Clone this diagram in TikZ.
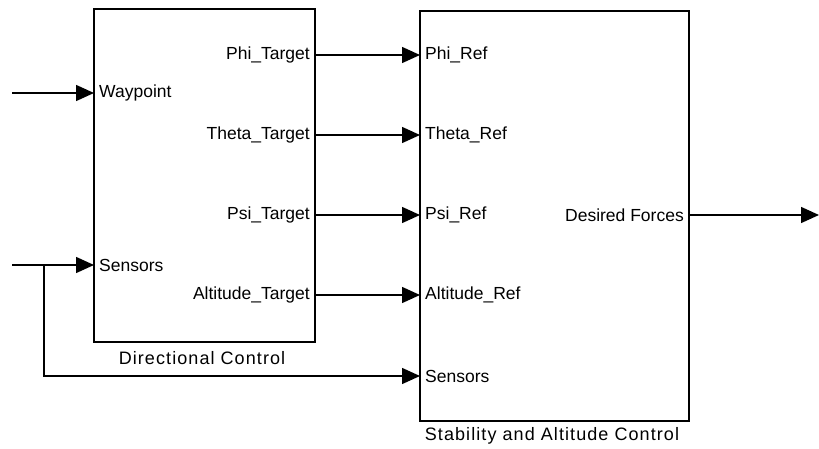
\documentclass[tikz,border=0pt]{standalone}
\usepackage{fontspec}
\setmainfont{Liberation Sans}
\newfontfamily\captionfont[LetterSpace=6]{Liberation Sans}
\usetikzlibrary{arrows.meta}

\tikzset{
  block/.style={draw, line width=1.5pt, outer sep=0pt, inner sep=0pt},
  portin/.style={anchor=west, inner sep=5pt, font=\fontsize{17.5}{20}\selectfont},
  portout/.style={anchor=east, inner sep=5pt, font=\fontsize{17.5}{20}\selectfont},
  sig/.style={line width=1.5pt, -{Triangle[length=18pt,width=16pt]}},
  blockname/.style={inner sep=0pt, font=\fontsize{18}{20}\captionfont}
}

\begin{document}
\begin{tikzpicture}[x=1pt,y=-1pt]
\useasboundingbox (0,0) rectangle (819,449);

% blocks
\node[block, minimum width=221pt, minimum height=333pt] (dc) at (204.5,175.5) {};
\node[blockname] (dcname) at (202,358) {Directional Control};

\node[block, minimum width=269pt, minimum height=410pt] (sac) at (554.5,216) {};
\node[blockname] (sacname) at (552,436) {Stability and Altitude Control};

% rows
\coordinate (r1) at (0,55);
\coordinate (r2) at (0,93);
\coordinate (r3) at (0,135);
\coordinate (r4) at (0,215);
\coordinate (r5) at (0,265);
\coordinate (r6) at (0,295);
\coordinate (r7) at (0,376);

% ports of Directional Control
\node[portin] (wp) at (dc.west |- r2) {Waypoint};
\node[portin] (sn) at (dc.west |- r5) {Sensors};

\node[portout] (phit) at (dc.east |- r1) {Phi\_Target};
\node[portout] (thetat) at (dc.east |- r3) {Theta\_Target};
\node[portout] (psit) at (dc.east |- r4) {Psi\_Target};
\node[portout] (altt) at (dc.east |- r6) {Altitude\_Target};

% ports of Stability and Altitude Control
\node[portin] (phir) at (sac.west |- r1) {Phi\_Ref};
\node[portin] (thetar) at (sac.west |- r3) {Theta\_Ref};
\node[portin] (psir) at (sac.west |- r4) {Psi\_Ref};
\node[portin] (altr) at (sac.west |- r6) {Altitude\_Ref};
\node[portin] (snr) at (sac.west |- r7) {Sensors};

\node[portout] (df) at (sac.east |- r4) {Desired Forces};

% free ends
\coordinate (wpin) at (12,93);
\coordinate (snin) at (12,265);
\coordinate (split) at (44,265);
\coordinate (dfout) at (819,215);

% signals
\draw[sig] (wpin) -- (wp.west);
\draw[sig] (snin) -- (sn.west);
\draw[sig] (split) |- (snr.west);

\draw[sig] (phit.east) -- (phir.west);
\draw[sig] (thetat.east) -- (thetar.west);
\draw[sig] (psit.east) -- (psir.west);
\draw[sig] (altt.east) -- (altr.west);

\draw[sig] (df.east) -- (dfout);

\end{tikzpicture}
\end{document}
